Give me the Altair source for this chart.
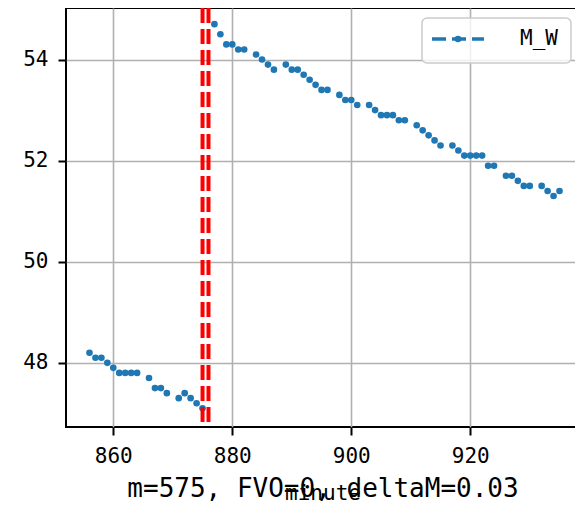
import altair as alt
import pandas as pd

minutes = [856, 857, 858, 859, 860, 861, 862, 863, 864, 866, 867, 868, 869,
           871, 872, 873, 874, 875,
           877, 878, 879, 880, 881, 882, 884, 885, 886, 887, 889, 890, 891,
           892, 893, 894, 895, 896, 898, 899, 900, 901, 903, 904, 905, 906,
           907, 908, 909, 911, 912, 913, 914, 915, 917, 918, 919, 920, 921,
           922, 923, 924, 926, 927, 928, 929, 930, 932, 933, 934, 935]
m_w = [48.2, 48.1, 48.1, 48.0, 47.9, 47.8, 47.8, 47.8, 47.8, 47.7, 47.5, 47.5, 47.4,
       47.3, 47.4, 47.3, 47.2, 47.1,
       54.7, 54.5, 54.3, 54.3, 54.2, 54.2, 54.1, 54.0, 53.9, 53.8, 53.9, 53.8, 53.8,
       53.7, 53.6, 53.5, 53.4, 53.4, 53.3, 53.2, 53.2, 53.1, 53.1, 53.0, 52.9, 52.9,
       52.9, 52.8, 52.8, 52.7, 52.6, 52.5, 52.4, 52.3, 52.3, 52.2, 52.1, 52.1, 52.1,
       52.1, 51.9, 51.9, 51.7, 51.7, 51.6, 51.5, 51.5, 51.5, 51.4, 51.3, 51.4]
vlines = [875, 876]
legend_label = "M_W"
x_ticks = [860, 880, 900, 920]
y_ticks = [48, 50, 52, 54]
x_title = "minute"
note = "m=575, FVO=0, deltaM=0.03"

FONT = "DejaVu Sans Mono"
BLUE = "#1f77b4"

df = pd.DataFrame({"minute": minutes, "M_W": m_w})
xs = alt.Scale(domain=[852.05, 938.95], nice=False, zero=False)
ys = alt.Scale(domain=[46.73, 55.02], nice=False, zero=False)

points = alt.Chart(df).mark_circle(size=44, color=BLUE, opacity=1).encode(
    x=alt.X("minute:Q", scale=xs, axis=alt.Axis(values=x_ticks, title=None)),
    y=alt.Y("M_W:Q", scale=ys, axis=alt.Axis(values=y_ticks, title=None)),
)

rules = alt.Chart(pd.DataFrame({"v": vlines})).mark_rule(
    color="#ff0000", strokeWidth=4, strokeDash=[15, 6]
).encode(x=alt.X("v:Q", scale=xs))

legend_df = pd.DataFrame({"label": [legend_label]})
box = alt.Chart(legend_df).mark_rect(
    fill="white", fillOpacity=0.8, stroke="#cccccc", strokeWidth=1.5, cornerRadius=5
).encode(x=alt.value(356), x2=alt.value(505), y=alt.value(10), y2=alt.value(55))
leg_line = alt.Chart(legend_df).mark_rule(
    color=BLUE, strokeWidth=3.3, strokeDash=[14, 6]
).encode(x=alt.value(366), x2=alt.value(418), y=alt.value(31))
leg_dot = alt.Chart(legend_df).mark_circle(size=44, color=BLUE, opacity=1).encode(
    x=alt.value(392), y=alt.value(31)
)
leg_text = alt.Chart(legend_df).mark_text(
    font=FONT, fontSize=21, align="center", baseline="middle", color="black"
).encode(text="label:N", x=alt.value(473), y=alt.value(31))

title_df = pd.DataFrame({"t": [x_title]})
xlabel = alt.Chart(title_df).mark_text(
    font=FONT, fontSize=21, align="center", baseline="middle", color="black"
).encode(text="t:N", x=alt.value(257), y=alt.value(486))

note_df = pd.DataFrame({"t": [note]})
note_text = alt.Chart(note_df).mark_text(
    font=FONT, fontSize=26, align="center", baseline="middle", color="black"
).encode(text="t:N", x=alt.value(257), y=alt.value(481))

chart = alt.layer(points, rules, box, leg_line, leg_dot, leg_text, xlabel, note_text).properties(
    width=517,
    height=419,
    padding={"left": 58, "top": 0, "right": -8, "bottom": 75},
    autosize=alt.AutoSizeParams(type="none"),
).configure_view(
    stroke="black", strokeWidth=2
).configure_axis(
    domain=False,
    ticks=True,
    tickColor="black",
    tickWidth=2,
    tickSize=8,
    labelFont=FONT,
    labelFontSize=21,
    labelColor="black",
    labelPadding=10,
    grid=True,
    gridColor="#b0b0b0",
    gridWidth=1.6,
)

chart.save("out.html", embed_options={"renderer": "svg", "actions": False})
